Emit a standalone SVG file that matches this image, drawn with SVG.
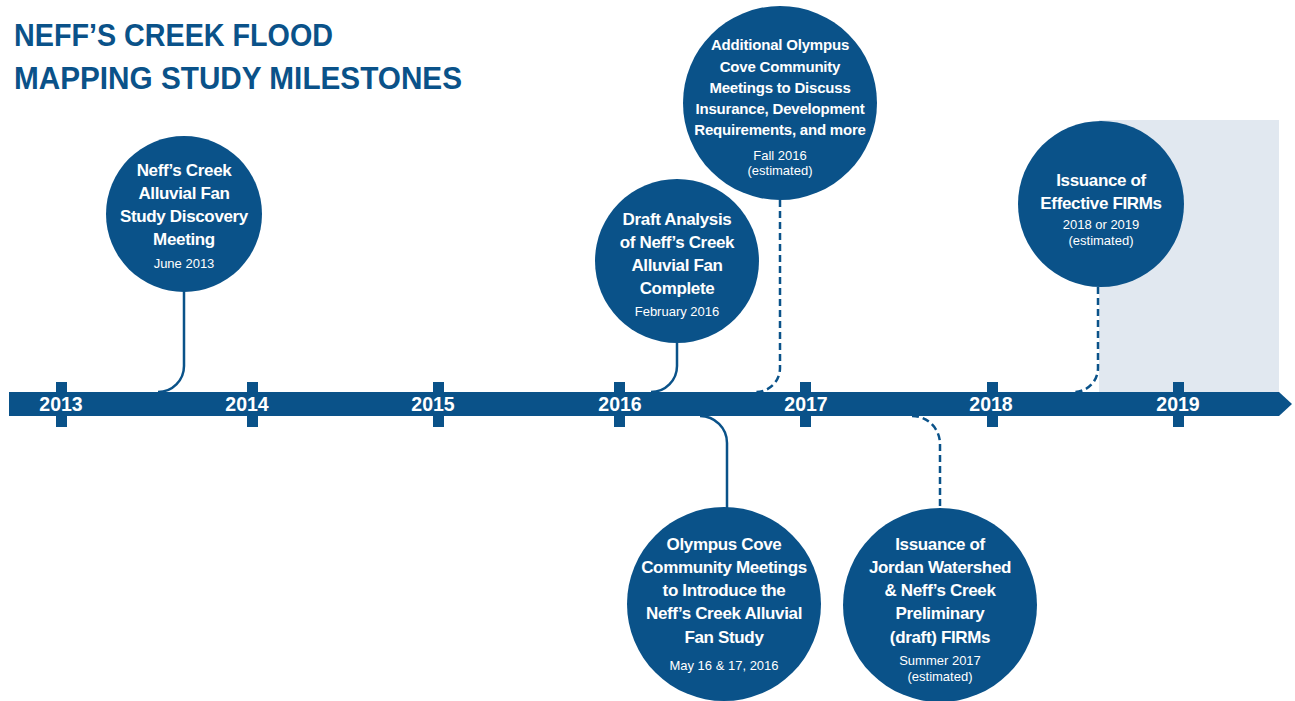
<svg xmlns="http://www.w3.org/2000/svg" width="1295" height="701" viewBox="0 0 1295 701">
<style>
.t{font-family:"Liberation Sans",Arial,sans-serif;}
.title{fill:#0a5289;font-size:32px;font-weight:bold;}
.node{fill:#0a5289;}
.h{fill:#fff;font-size:17px;font-weight:bold;text-anchor:middle;letter-spacing:-0.35px;}
.hs{fill:#fff;font-size:15px;font-weight:bold;text-anchor:middle;letter-spacing:-0.2px;}
.d{fill:#fff;font-size:13px;text-anchor:middle;}
.yr{fill:#fff;font-size:19.5px;font-weight:bold;text-anchor:middle;}
.c{fill:none;stroke:#0a5289;stroke-width:2.5;}
.dash{stroke-dasharray:7 4;}
</style>
<rect x="0" y="0" width="1295" height="701" fill="#fff"/>
<g id="title" class="t title">
<text x="14" y="46" textLength="319" lengthAdjust="spacingAndGlyphs">NEFF’S CREEK FLOOD</text>
<text x="14" y="89" textLength="448" lengthAdjust="spacingAndGlyphs">MAPPING STUDY MILESTONES</text>
</g>
<rect id="future-shade" x="1099" y="120" width="180" height="272" fill="#e1e8f0"/>
<g id="connectors" class="c">
<path d="M184,292 V366 A26,26 0 0 1 158,392"/>
<path d="M677,343 V366 A26,26 0 0 1 651,392"/>
<path class="dash" d="M780,200 V368 A24,24 0 0 1 756,392"/>
<path class="dash" d="M1098,287 V368 A24,24 0 0 1 1074,392"/>
<path d="M700,416 A27,27 0 0 1 727,443 V508"/>
<path class="dash" d="M912,416 A28,28 0 0 1 940,444 V508"/>
</g>
<g id="timeline">
<path d="M9,392 H1279 L1292,404 L1279,416 H9 Z" fill="#0a5289"/>
<g fill="#0a5289">
<rect x="56" y="382" width="11" height="45"/>
<rect x="247" y="382" width="11" height="45"/>
<rect x="433" y="382" width="11" height="45"/>
<rect x="614" y="382" width="11" height="45"/>
<rect x="800" y="382" width="11" height="45"/>
<rect x="987" y="382" width="11" height="45"/>
<rect x="1173" y="382" width="11" height="45"/>
</g>
<g class="t yr">
<text x="61" y="411">2013</text>
<text x="247" y="411">2014</text>
<text x="433" y="411">2015</text>
<text x="620" y="411">2016</text>
<text x="806" y="411">2017</text>
<text x="991" y="411">2018</text>
<text x="1178" y="411">2019</text>
</g>
</g>
<g id="discovery-meeting">
<circle class="node" cx="184" cy="214" r="78"/>
<g class="t h"><text x="184" y="176">Neff’s Creek</text><text x="184" y="199">Alluvial Fan</text><text x="184" y="222">Study Discovery</text><text x="184" y="245">Meeting</text></g>
<text class="t d" x="184" y="268">June 2013</text>
</g>
<g id="draft-analysis">
<circle class="node" cx="677" cy="261" r="82"/>
<g class="t h"><text x="677" y="225">Draft Analysis</text><text x="677" y="248">of Neff’s Creek</text><text x="677" y="271">Alluvial Fan</text><text x="677" y="294">Complete</text></g>
<text class="t d" x="677" y="316">February 2016</text>
</g>
<g id="additional-meetings">
<circle class="node" cx="780" cy="103" r="97"/>
<g class="t hs"><text x="780" y="50">Additional Olympus</text><text x="780" y="72">Cove Community</text><text x="780" y="93">Meetings to Discuss</text><text x="780" y="114">Insurance, Development</text><text x="780" y="135">Requirements, and more</text></g>
<g class="t d"><text x="780" y="160">Fall 2016</text><text x="780" y="175">(estimated)</text></g>
</g>
<g id="effective-firms">
<circle class="node" cx="1101" cy="204" r="83"/>
<g class="t h"><text x="1101" y="186">Issuance of</text><text x="1101" y="209">Effective FIRMs</text></g>
<g class="t d"><text x="1101" y="229">2018 or 2019</text><text x="1101" y="245">(estimated)</text></g>
</g>
<g id="olympus-cove-meetings">
<circle class="node" cx="724" cy="604" r="97"/>
<g class="t h"><text x="724" y="550">Olympus Cove</text><text x="724" y="573">Community Meetings</text><text x="724" y="596">to Introduce the</text><text x="724" y="619">Neff’s Creek Alluvial</text><text x="724" y="643">Fan Study</text></g>
<text class="t d" x="724" y="670">May 16 &amp; 17, 2016</text>
</g>
<g id="preliminary-firms">
<circle class="node" cx="940" cy="605" r="97"/>
<g class="t h"><text x="940" y="550">Issuance of</text><text x="940" y="573">Jordan Watershed</text><text x="940" y="596">&amp; Neff’s Creek</text><text x="940" y="619">Preliminary</text><text x="940" y="643">(draft) FIRMs</text></g>
<g class="t d"><text x="940" y="665">Summer 2017</text><text x="940" y="681">(estimated)</text></g>
</g>
</svg>
